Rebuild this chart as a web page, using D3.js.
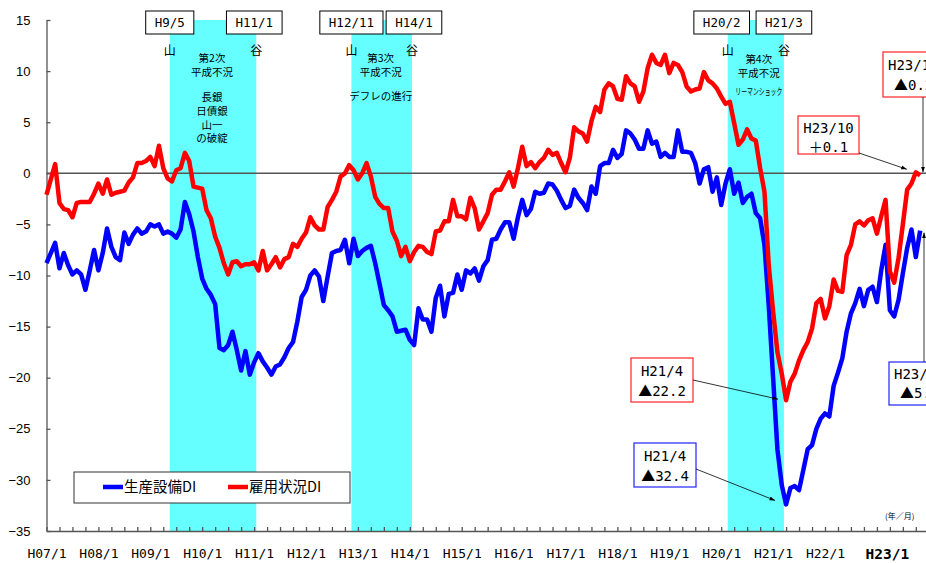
<!DOCTYPE html>
<html>
<head>
<meta charset="utf-8">
<script src="https://cdn.jsdelivr.net/npm/d3@7"></script>
<style>
  body { margin: 0; background: #fff; overflow: hidden; }
  text { font-family: "Noto Sans CJK JP", sans-serif; }
  .mono { font-family: "DejaVu Sans Mono", monospace; }
  .axis text { font-family: "Liberation Sans", Arial, sans-serif; font-size: 13px; fill: #000; }
</style>
</head>
<body>
<div id="chart"></div>
<script>
// x axis labels, one per January (H07/1 = month 0)
var tickLabels = ["H07/1","H08/1","H09/1","H10/1","H11/1","H12/1","H13/1","H14/1",
                  "H15/1","H16/1","H17/1","H18/1","H19/1","H20/1","H21/1","H22/1","H23/1"];

// 生産設備DI, monthly from H07/1 to H23/11
var equipDI = [
  -8.8,-7.8,-6.8,-9.3,-7.8,-9.0,-9.9,-9.5,-9.9,-11.4,
  -9.5,-7.5,-9.5,-7.8,-5.4,-7.2,-8.2,-8.5,-5.8,-6.9,
  -6.0,-5.4,-5.9,-5.7,-5.0,-5.2,-5.0,-5.9,-5.7,-5.9,
  -6.3,-5.5,-2.8,-4.0,-5.7,-8.2,-10.3,-11.3,-11.9,-12.8,
  -17.1,-17.3,-16.8,-15.5,-17.3,-19.3,-17.4,-19.7,-18.5,-17.6,
  -18.4,-19.0,-19.7,-18.9,-18.7,-18.0,-17.1,-16.5,-14.5,-12.1,
  -11.4,-10.0,-9.5,-10.1,-12.5,-10.1,-7.8,-7.6,-7.5,-6.5,
  -8.8,-6.4,-8.1,-7.6,-7.3,-7.1,-8.8,-10.8,-12.9,-13.4,
  -14.0,-15.5,-15.4,-15.3,-16.3,-16.8,-13.2,-14.3,-14.3,-15.5,
  -12.2,-11.0,-14.0,-11.8,-11.7,-9.9,-11.4,-9.5,-9.8,-9.3,
  -10.5,-9.1,-8.5,-6.5,-6.4,-5.5,-4.8,-4.8,-6.4,-4.3,
  -2.6,-4.1,-3.5,-1.8,-2.0,-1.9,-1.0,-1.1,-1.7,-2.6,
  -3.4,-3.2,-1.6,-2.4,-2.9,-3.6,-1.3,-2.0,0.7,1.0,
  1.0,2.3,1.5,1.9,4.2,3.9,3.3,2.4,2.4,4.2,
  2.9,3.1,1.6,2.0,1.6,1.6,4.2,2.1,2.1,2.0,
  1.0,-1.0,0.4,0.6,-1.8,-0.4,-3.1,-1.0,0.4,-2.0,
  -0.9,-2.9,-2.3,-2.0,-3.9,-4.4,-7.0,-13.0,-20.0,-27.0,
  -30.5,-32.4,-30.8,-30.6,-31.0,-29.0,-27.0,-26.6,-25.0,-24.0,
  -23.5,-23.8,-20.8,-19.5,-18.1,-15.5,-13.7,-12.7,-11.3,-13.0,
  -11.4,-11.1,-12.6,-9.5,-7.0,-13.4,-14.0,-12.4,-9.8,-7.3,
  -5.5,-8.2,-5.6
];

// 雇用状況DI, monthly from H07/1 to H23/11
var employDI = [
  -2.1,-0.6,0.9,-2.9,-3.5,-3.6,-4.3,-2.9,-2.8,-2.8,
  -2.8,-2.0,-1.0,-2.0,-0.6,-2.1,-1.9,-1.8,-1.7,-0.9,
  -0.4,1.0,1.0,1.2,1.6,0.7,2.7,0.5,-0.5,-0.8,
  0.3,0.5,2.0,1.2,-1.3,-1.4,-1.5,-3.6,-4.4,-6.2,
  -7.3,-8.8,-9.9,-8.7,-8.6,-9.1,-8.9,-8.9,-8.7,-9.5,
  -7.6,-9.5,-8.9,-8.2,-9.2,-8.4,-8.2,-6.9,-7.2,-6.4,
  -5.8,-4.3,-5.1,-5.5,-5.5,-3.3,-2.6,-1.8,-0.3,0.0,
  0.8,0.3,-0.6,0.0,1.0,-0.3,-2.3,-3.0,-3.4,-3.4,
  -5.7,-6.6,-8.1,-7.2,-8.6,-7.7,-7.1,-7.2,-7.7,-7.9,
  -5.7,-5.6,-4.7,-4.7,-2.6,-4.2,-4.2,-4.5,-2.4,-3.4,
  -5.5,-4.7,-3.9,-2.1,-1.6,-1.6,-0.8,0.1,-1.3,0.5,
  2.6,0.7,1.1,0.5,1.1,1.5,2.3,1.8,2.0,1.0,
  0.1,1.5,4.5,4.1,3.9,3.1,5.1,6.5,6.0,8.2,
  8.8,8.5,7.3,7.2,9.5,8.8,8.5,7.0,8.0,10.3,
  11.6,10.8,10.6,11.6,9.8,10.8,10.6,9.9,8.5,8.0,
  8.2,8.3,9.9,9.1,8.8,8.3,7.5,6.8,7.0,4.9,
  2.8,3.3,4.3,3.4,3.2,0.5,-1.8,-9.0,-13.5,-17.5,
  -19.6,-22.2,-20.4,-19.6,-18.3,-17.3,-16.5,-15.2,-12.7,-12.3,
  -14.2,-13.0,-10.4,-11.5,-11.6,-8.0,-7.0,-5.0,-4.7,-5.1,
  -4.6,-4.4,-5.9,-4.2,-2.6,-9.6,-10.7,-8.3,-5.0,-1.6,
  -1.0,0.1,-0.2
];

// recessions (peak 山 / trough 谷), months counted from H07/1
var recessions = [
  {peak: "H9/5",   trough: "H11/1", peakM: 28,  troughM: 48,  title: ["第2次", "平成不況"], notes: ["長銀", "日債銀", "山一", "の破綻"]},
  {peak: "H12/11", trough: "H14/1", peakM: 70,  troughM: 84,  title: ["第3次", "平成不況"], notes: ["デフレの進行"]},
  {peak: "H20/2",  trough: "H21/3", peakM: 157, troughM: 170, title: ["第4次", "平成不況"], notes: ["リーマンショック"]}
];

// callouts on the lines
var callouts = [
  {series: "employ", m: 171, lines: ["H21/4", "▲22.2"]},
  {series: "equip",  m: 171, lines: ["H21/4", "▲32.4"]},
  {series: "employ", m: 201, lines: ["H23/10", "＋0.1"]},
  {series: "employ", m: 202, lines: ["H23/11", "▲0.2"]},
  {series: "equip",  m: 202, lines: ["H23/11", "▲5.6"]}
];

var W = 926, H = 563;
var svg = d3.select("#chart").append("svg").attr("width", W).attr("height", H);

svg.append("defs").append("marker")
  .attr("id", "arr").attr("viewBox", "0 0 10 10").attr("refX", 10).attr("refY", 5)
  .attr("markerWidth", 7).attr("markerHeight", 7).attr("orient", "auto-start-reverse")
  .append("path").attr("d", "M0,1.5L10,5L0,8.5z").attr("fill", "#000");

var x = d3.scaleLinear().domain([0, 204]).range([46.5, 46.5 + 204 * 4.325]);
var y = d3.scaleLinear().domain([-35, 15]).range([531, 20]);

// recession bands
recessions.forEach(function(r) {
  svg.append("rect")
    .attr("x", x(r.peakM + 0.5)).attr("y", y(15))
    .attr("width", x(r.troughM + 0.5) - x(r.peakM + 0.5))
    .attr("height", y(-35) - y(15))
    .attr("fill", "#66ffff");
});

// zero line
svg.append("line").attr("x1", x(0)).attr("x2", W).attr("y1", y(0)).attr("y2", y(0))
  .attr("stroke", "#555").attr("stroke-width", 1.5);

// axes
var yAxis = d3.axisLeft(y).tickValues(d3.range(-35, 16, 5)).tickSize(-4).tickSizeOuter(0).tickPadding(16);
var gy = svg.append("g").attr("class", "axis").attr("transform", "translate(" + x(0) + ",0)").call(yAxis);

var xAxis = d3.axisBottom(x).tickValues(d3.range(0, 205, 3)).tickSize(-4).tickSizeOuter(0).tickPadding(18)
  .tickFormat(function(d) { return d % 12 === 0 && tickLabels[d / 12] ? tickLabels[d / 12] : ""; });
var gx = svg.append("g").attr("class", "axis").attr("transform", "translate(0," + y(-35) + ")").call(xAxis);

svg.selectAll(".axis path, .axis line").attr("stroke", "#555").attr("stroke-width", 1.3);
gx.selectAll("text").attr("class", "mono").style("font-family", "DejaVu Sans Mono, monospace").style("font-size", "13px");
gx.selectAll("text").filter(function(d) { return d === 192; })
  .attr("dx", 10).style("font-size", "14.5px").style("font-weight", "bold");

// series lines
var line = d3.line().x(function(d, i) { return x(i); }).y(function(d) { return y(d); });
svg.append("path").datum(equipDI).attr("d", line).attr("fill", "none")
  .attr("stroke", "#0000ff").attr("stroke-width", 4.5).attr("stroke-linejoin", "round");
svg.append("path").datum(employDI).attr("d", line).attr("fill", "none")
  .attr("stroke", "#ff0000").attr("stroke-width", 4.5).attr("stroke-linejoin", "round");

// recession labels
var boxShift = [[0, -2], [0, 2], [-6, 0]];
recessions.forEach(function(r, i) {
  var x0 = x(r.peakM + 0.5), x1 = x(r.troughM + 0.5);
  [[r.peak, x0 + boxShift[i][0]], [r.trough, x1 + boxShift[i][1]]].forEach(function(b) {
    var g = svg.append("g");
    var t = g.append("text").attr("class", "mono").attr("x", b[1]).attr("y", 27)
      .attr("text-anchor", "middle").style("font-size", "12.5px").text(b[0]);
    var w = t.node().getComputedTextLength() + 18;
    g.insert("rect", "text").attr("x", b[1] - w / 2).attr("y", 11).attr("width", w).attr("height", 23)
      .attr("fill", "#fff").attr("stroke", "#000").attr("stroke-width", 1);
  });
  svg.append("text").attr("x", x0).attr("y", 55).attr("text-anchor", "middle").style("font-size", "12px").text("山");
  svg.append("text").attr("x", x1).attr("y", 55).attr("text-anchor", "middle").style("font-size", "12px").text("谷");
  var cx = (x0 + x1) / 2 + (i === 2 ? 3 : -1);
  r.title.forEach(function(s, j) {
    svg.append("text").attr("x", cx).attr("y", 62 + j * 14 + (i === 2 ? 1 : 0))
      .attr("text-anchor", "middle").style("font-size", "10.5px").text(s);
  });
  r.notes.forEach(function(s, j) {
    var t = svg.append("text").attr("x", cx).attr("y", (i === 2 ? 95 : 101) + j * 13.8 + (i === 1 ? -1 : 0))
      .attr("text-anchor", "middle").style("font-size", i === 2 ? "9px" : "10.5px").text(s);
    if (i === 2) t.attr("textLength", 47).attr("lengthAdjust", "spacingAndGlyphs");
  });
});

// callout boxes: [box x, box y, box w, box h, arrow start x, start y, tip dx, tip dy, line1 dy, line2 dy]
var calloutLayout = [
  [631, 358, 62, 44, 693, 380, -8, -1, 13.4, 33.4],
  [634, 443, 62, 44, 696, 469, -11, -4, 13, 33],
  [798, 116, 61, 38, 859, 153, -9, -3, 11.7, 30.7],
  [883, 52, 70, 45, 923, 97, 3, -3, 12.7, 32.7],
  [889, 362, 70, 43, 924, 362, 4, 2, 12.3, 31.3]
];
callouts.forEach(function(c, i) {
  var L = calloutLayout[i];
  var col = c.series === "employ" ? "#ff3333" : "#3333ff";
  var vals = c.series === "employ" ? employDI : equipDI;
  var edge = i >= 3;
  svg.append("rect").attr("x", L[0]).attr("y", L[1]).attr("width", L[2]).attr("height", L[3])
    .attr("fill", "#fff").attr("stroke", col).attr("stroke-width", 1.3);
  c.lines.forEach(function(s, j) {
    var t = svg.append("text").attr("class", "mono")
      .attr("x", edge ? L[0] + (j === 0 ? 5 : 11) : L[0] + L[2] / 2)
      .attr("y", L[1] + (j === 0 ? L[8] : L[9])).attr("dy", "0.35em")
      .attr("text-anchor", edge ? "start" : "middle")
      .style("font-size", "14px");
    if (j === 1) {
      t.append("tspan").style("font-family", "Noto Sans CJK JP, sans-serif").text(s.charAt(0));
      t.append("tspan").text(s.slice(1));
    } else {
      t.text(s);
    }
  });
  svg.append("line").attr("x1", L[4]).attr("y1", L[5])
    .attr("x2", edge ? L[4] : x(c.m) + L[6]).attr("y2", y(vals[c.m]) + L[7])
    .attr("stroke", "#000").attr("stroke-width", 0.8).attr("marker-end", "url(#arr)");
});

// legend
var lg = svg.append("g");
lg.append("rect").attr("x", 74).attr("y", 472).attr("width", 276).attr("height", 31)
  .attr("fill", "#fff").attr("stroke", "#333").attr("stroke-width", 1);
[["生産設備DI", "#0000ff", 103], ["雇用状況DI", "#ff0000", 228]].forEach(function(e) {
  lg.append("line").attr("x1", e[2]).attr("x2", e[2] + 20).attr("y1", 487).attr("y2", 487)
    .attr("stroke", e[1]).attr("stroke-width", 4.5);
  lg.append("text").attr("x", e[2] + 21).attr("y", 487).attr("dy", "0.36em")
    .style("font-size", "14.5px").text(e[0]);
});

svg.append("text").attr("x", 885).attr("y", 516).attr("dy", "0.35em").style("font-size", "8px").text("(年／月)");
</script>
</body>
</html>
